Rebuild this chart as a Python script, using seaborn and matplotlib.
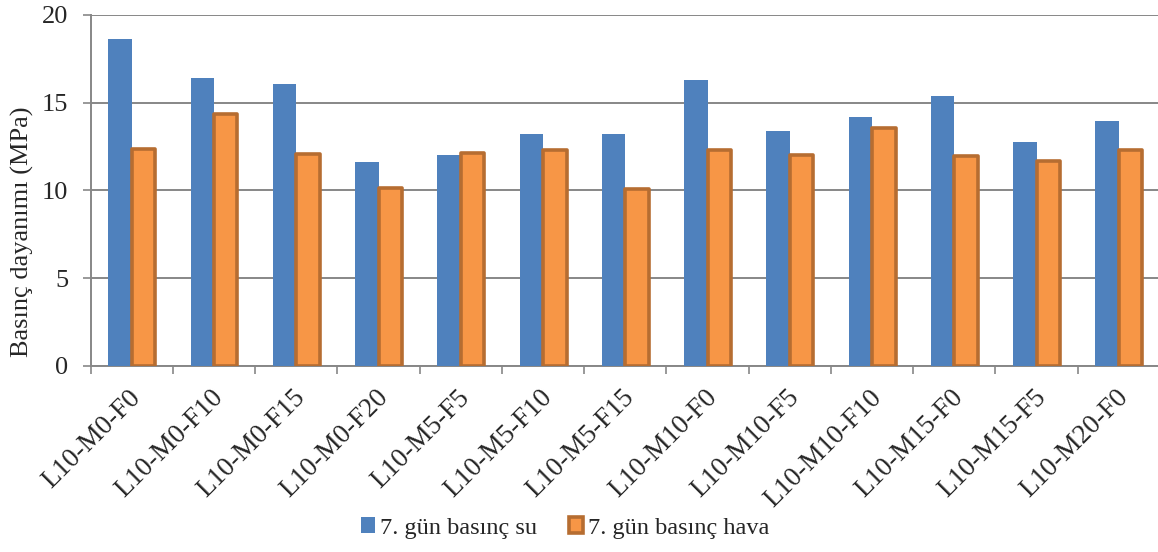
import matplotlib
matplotlib.use("Agg")
import matplotlib.pyplot as plt
import matplotlib.patches as mpatches
import matplotlib.transforms as mtransforms
import seaborn as sns
import pandas as pd
import numpy as np

# Sample codes and 7-day compressive strength (MPa)
mixes = ["L10-M0-F0", "L10-M0-F10", "L10-M0-F15", "L10-M0-F20", "L10-M5-F5",
         "L10-M5-F10", "L10-M5-F15", "L10-M10-F0", "L10-M10-F5", "L10-M10-F10",
         "L10-M15-F0", "L10-M15-F5", "L10-M20-F0"]
water_cured = [18.6, 16.4, 16.07, 11.62, 12.02, 13.24, 13.24, 16.3, 13.37, 14.19,
               15.38, 12.76, 13.96]
air_cured = [12.38, 14.35, 12.1, 10.12, 12.14, 12.31, 10.08, 12.31, 12.03, 13.57,
             11.95, 11.68, 12.33]
series_names = ["7. gün basınç su", "7. gün basınç hava"]
y_ticks = [0, 5, 10, 15, 20]

df = pd.DataFrame({
    "mix": mixes * 2,
    "strength": water_cured + air_cured,
    "series": [series_names[0]] * len(mixes) + [series_names[1]] * len(mixes),
})

blue = "#4F81BD"
orange = "#F79646"
orange_edge = "#B66D31"
grey = "#878787"

sns.set_theme(style="white")
plt.rcParams["font.family"] = ["Liberation Serif", "DejaVu Serif"]

fig = plt.figure(figsize=(11.58, 5.52), dpi=100)
ax = fig.add_axes([0.0783, 0.337, 0.9234, 0.636])

sns.barplot(data=df, x="mix", y="strength", hue="series", order=mixes,
            hue_order=series_names, palette=[blue, orange], width=0.57,
            saturation=1, errorbar=None, legend=False, ax=ax, zorder=3)

for bar in ax.containers[0]:
    bar.set_edgecolor("none")
    bar.set_linewidth(0)
for bar in ax.containers[1]:
    bar.set_edgecolor(orange_edge)
    bar.set_linewidth(2.6)
    bar.set_joinstyle("round")

ax.set_ylim(0, 20)
ax.set_xlim(-0.5, len(mixes) - 0.5)
ax.set_yticks(y_ticks)
ax.yaxis.grid(True, color=grey, linewidth=1.4, zorder=0)
ax.set_axisbelow(True)

ax.tick_params(axis="y", which="major", direction="out", length=6, width=1.2,
               color=grey, labelsize=19, pad=10, left=True)
ax.set_xticks(np.arange(len(mixes)))
ax.set_xticklabels(mixes, rotation=45, ha="right", va="center",
                   rotation_mode="anchor", fontsize=19.5)
ax.tick_params(axis="x", which="major", length=0, pad=20)
shift = mtransforms.ScaledTranslation(4 / 72, 0, fig.dpi_scale_trans)
for lbl in ax.get_xticklabels():
    lbl.set_transform(lbl.get_transform() + shift)
ax.set_xticks(np.arange(-0.5, len(mixes) + 0.5, 1), minor=True)
ax.tick_params(axis="x", which="minor", direction="out", length=6, width=1.2,
               color=grey, bottom=True)

for side in ["top", "right"]:
    ax.spines[side].set_visible(False)
for side in ["left", "bottom"]:
    ax.spines[side].set_color(grey)
    ax.spines[side].set_linewidth(1.4)

ax.set_xlabel("")
ax.set_ylabel("Basınç dayanımı (MPa)", fontsize=19)
ax.yaxis.set_label_coords(-0.053, 0.383)

handles = [
    mpatches.Patch(facecolor=blue, edgecolor="none", label=series_names[0]),
    mpatches.Patch(facecolor=orange, edgecolor=orange_edge, linewidth=2.6,
                   label=series_names[1]),
]
fig.legend(handles=handles, loc="center", bbox_to_anchor=(0.488, 1 - 528 / 552),
           ncol=2, frameon=False, fontsize=17.5, handlelength=0.6,
           handleheight=0.6, handletextpad=0.2, columnspacing=1.3)

fig.savefig("out.png", dpi=100, facecolor="white")
